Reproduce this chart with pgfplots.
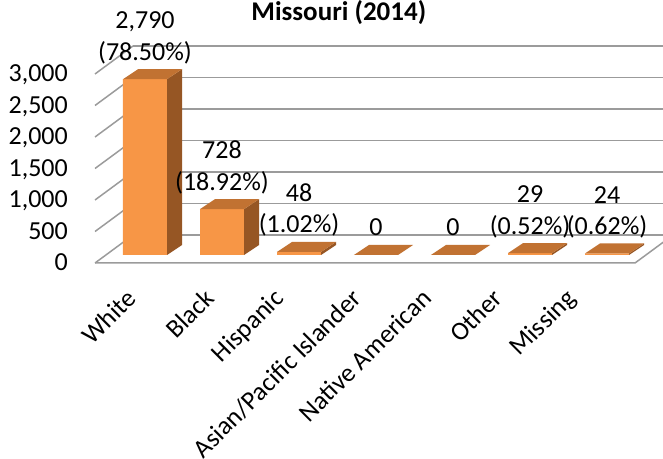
\documentclass[border=0pt]{standalone}
\usepackage{fontspec}
\setmainfont{Carlito}
\usepackage{pgfplots}
\pgfplotsset{compat=1.18}
\definecolor{barfront}{RGB}{247,150,70}
\definecolor{bartop}{RGB}{193,114,50}
\definecolor{barside}{RGB}{150,86,36}
\definecolor{gridc}{RGB}{155,155,155}
\newcommand{\lblfont}{\fontsize{26}{31.2}\selectfont}
\begin{document}
\lblfont
\begin{tikzpicture}
\begin{axis}[
  scale only axis, width=663pt, height=459pt,
  xmin=-1.8831, xmax=6.7273, ymin=-3237.5, ymax=4047,
  axis line style={draw=none}, major tick length=0pt, tick style={draw=none},
  xtick={-0.091,0.922,1.818,2.831,3.740,4.662,5.610},
  xticklabels={White,Black,Hispanic,Asian/Pacific Islander,Native American,Other,Missing},
  xticklabel style={yshift=159pt, rotate=45, anchor=base east, inner sep=0pt, font=\lblfont},
  ytick={-127,373,873,1373,1873,2373,2873},
  yticklabels={0,500,{1,000},{1,500},{2,000},{2,500},{3,000}},
  yticklabel style={xshift=68pt, yshift=-8pt, anchor=base east, inner sep=0pt, font=\lblfont},
  title={Missouri (2014)},
  title style={at={(rel axis cs:0.511,0.9412)}, anchor=base, inner sep=0pt, font=\bfseries\fontsize{27}{32}\selectfont},
]
% back wall gridlines
\addplot[gridc, line width=1.5pt] coordinates {(-0.156,317) (6.9,317)};
\addplot[gridc, line width=1.5pt] coordinates {(-0.156,817) (6.9,817)};
\addplot[gridc, line width=1.5pt] coordinates {(-0.156,1317) (6.9,1317)};
\addplot[gridc, line width=1.5pt] coordinates {(-0.156,1817) (6.9,1817)};
\addplot[gridc, line width=1.5pt] coordinates {(-0.156,2317) (6.9,2317)};
\addplot[gridc, line width=1.5pt] coordinates {(-0.156,2817) (6.9,2817)};
\addplot[gridc, line width=1.5pt] coordinates {(-0.156,3317) (6.9,3317)};
% left wall gridlines
\addplot[gridc, line width=1.5pt] coordinates {(-0.649,-127) (-0.156,317)};
\addplot[gridc, line width=1.5pt] coordinates {(-0.649,373) (-0.156,817)};
\addplot[gridc, line width=1.5pt] coordinates {(-0.649,873) (-0.156,1317)};
\addplot[gridc, line width=1.5pt] coordinates {(-0.649,1373) (-0.156,1817)};
\addplot[gridc, line width=1.5pt] coordinates {(-0.649,1873) (-0.156,2317)};
\addplot[gridc, line width=1.5pt] coordinates {(-0.649,2373) (-0.156,2817)};
\addplot[gridc, line width=1.5pt] coordinates {(-0.649,2873) (-0.156,3317)};
% floor outline
\addplot[gridc, line width=1.5pt] coordinates {(-0.649,-127) (6.364,-127) (6.857,317)};
% front faces of the bars
\addplot[ybar, bar width=44pt, fill=barfront, draw=none,
  nodes near coords, point meta=explicit symbolic,
  nodes near coords style={align=center, anchor=south, inner sep=0pt, yshift=9.5pt, font=\lblfont, text=black}]
  coordinates {
  (0,2790) [{2,790\\\strut(78.50\%)}]
  (1,728) [{728\\\strut(18.92\%)}]
  (2,48) [{48\\\strut(1.02\%)}]
  (3,0) [{\strut 0}]
  (4,0) [{\strut 0}]
  (5,29) [{29\\\strut(0.52\%)}]
  (6,24) [{24\\\strut(0.62\%)}]
  };
% side faces
\addplot[fill=barside, draw=none] coordinates {(0.286,0) (0.481,159) (0.481,2949) (0.286,2790)} -- cycle;
\addplot[fill=barside, draw=none] coordinates {(1.286,0) (1.481,159) (1.481,887) (1.286,728)} -- cycle;
\addplot[fill=barside, draw=none] coordinates {(2.286,0) (2.481,159) (2.481,207) (2.286,48)} -- cycle;
\addplot[fill=barside, draw=none] coordinates {(5.286,0) (5.481,159) (5.481,188) (5.286,29)} -- cycle;
\addplot[fill=barside, draw=none] coordinates {(6.286,0) (6.481,159) (6.481,183) (6.286,24)} -- cycle;
% top faces
\addplot[fill=bartop, draw=none] coordinates {(-0.286,2790) (0.286,2790) (0.481,2949) (-0.091,2949)} -- cycle;
\addplot[fill=bartop, draw=none] coordinates {(0.714,728) (1.286,728) (1.481,887) (0.909,887)} -- cycle;
\addplot[fill=bartop, draw=none] coordinates {(1.714,48) (2.286,48) (2.481,207) (1.909,207)} -- cycle;
\addplot[fill=bartop, draw=none] coordinates {(2.714,0) (3.286,0) (3.481,159) (2.909,159)} -- cycle;
\addplot[fill=bartop, draw=none] coordinates {(3.714,0) (4.286,0) (4.481,159) (3.909,159)} -- cycle;
\addplot[fill=bartop, draw=none] coordinates {(4.714,29) (5.286,29) (5.481,188) (4.909,188)} -- cycle;
\addplot[fill=bartop, draw=none] coordinates {(5.714,24) (6.286,24) (6.481,183) (5.909,183)} -- cycle;
\end{axis}
\pgfresetboundingbox
\useasboundingbox (current axis.south west) rectangle (current axis.north east);
\end{tikzpicture}
\end{document}
